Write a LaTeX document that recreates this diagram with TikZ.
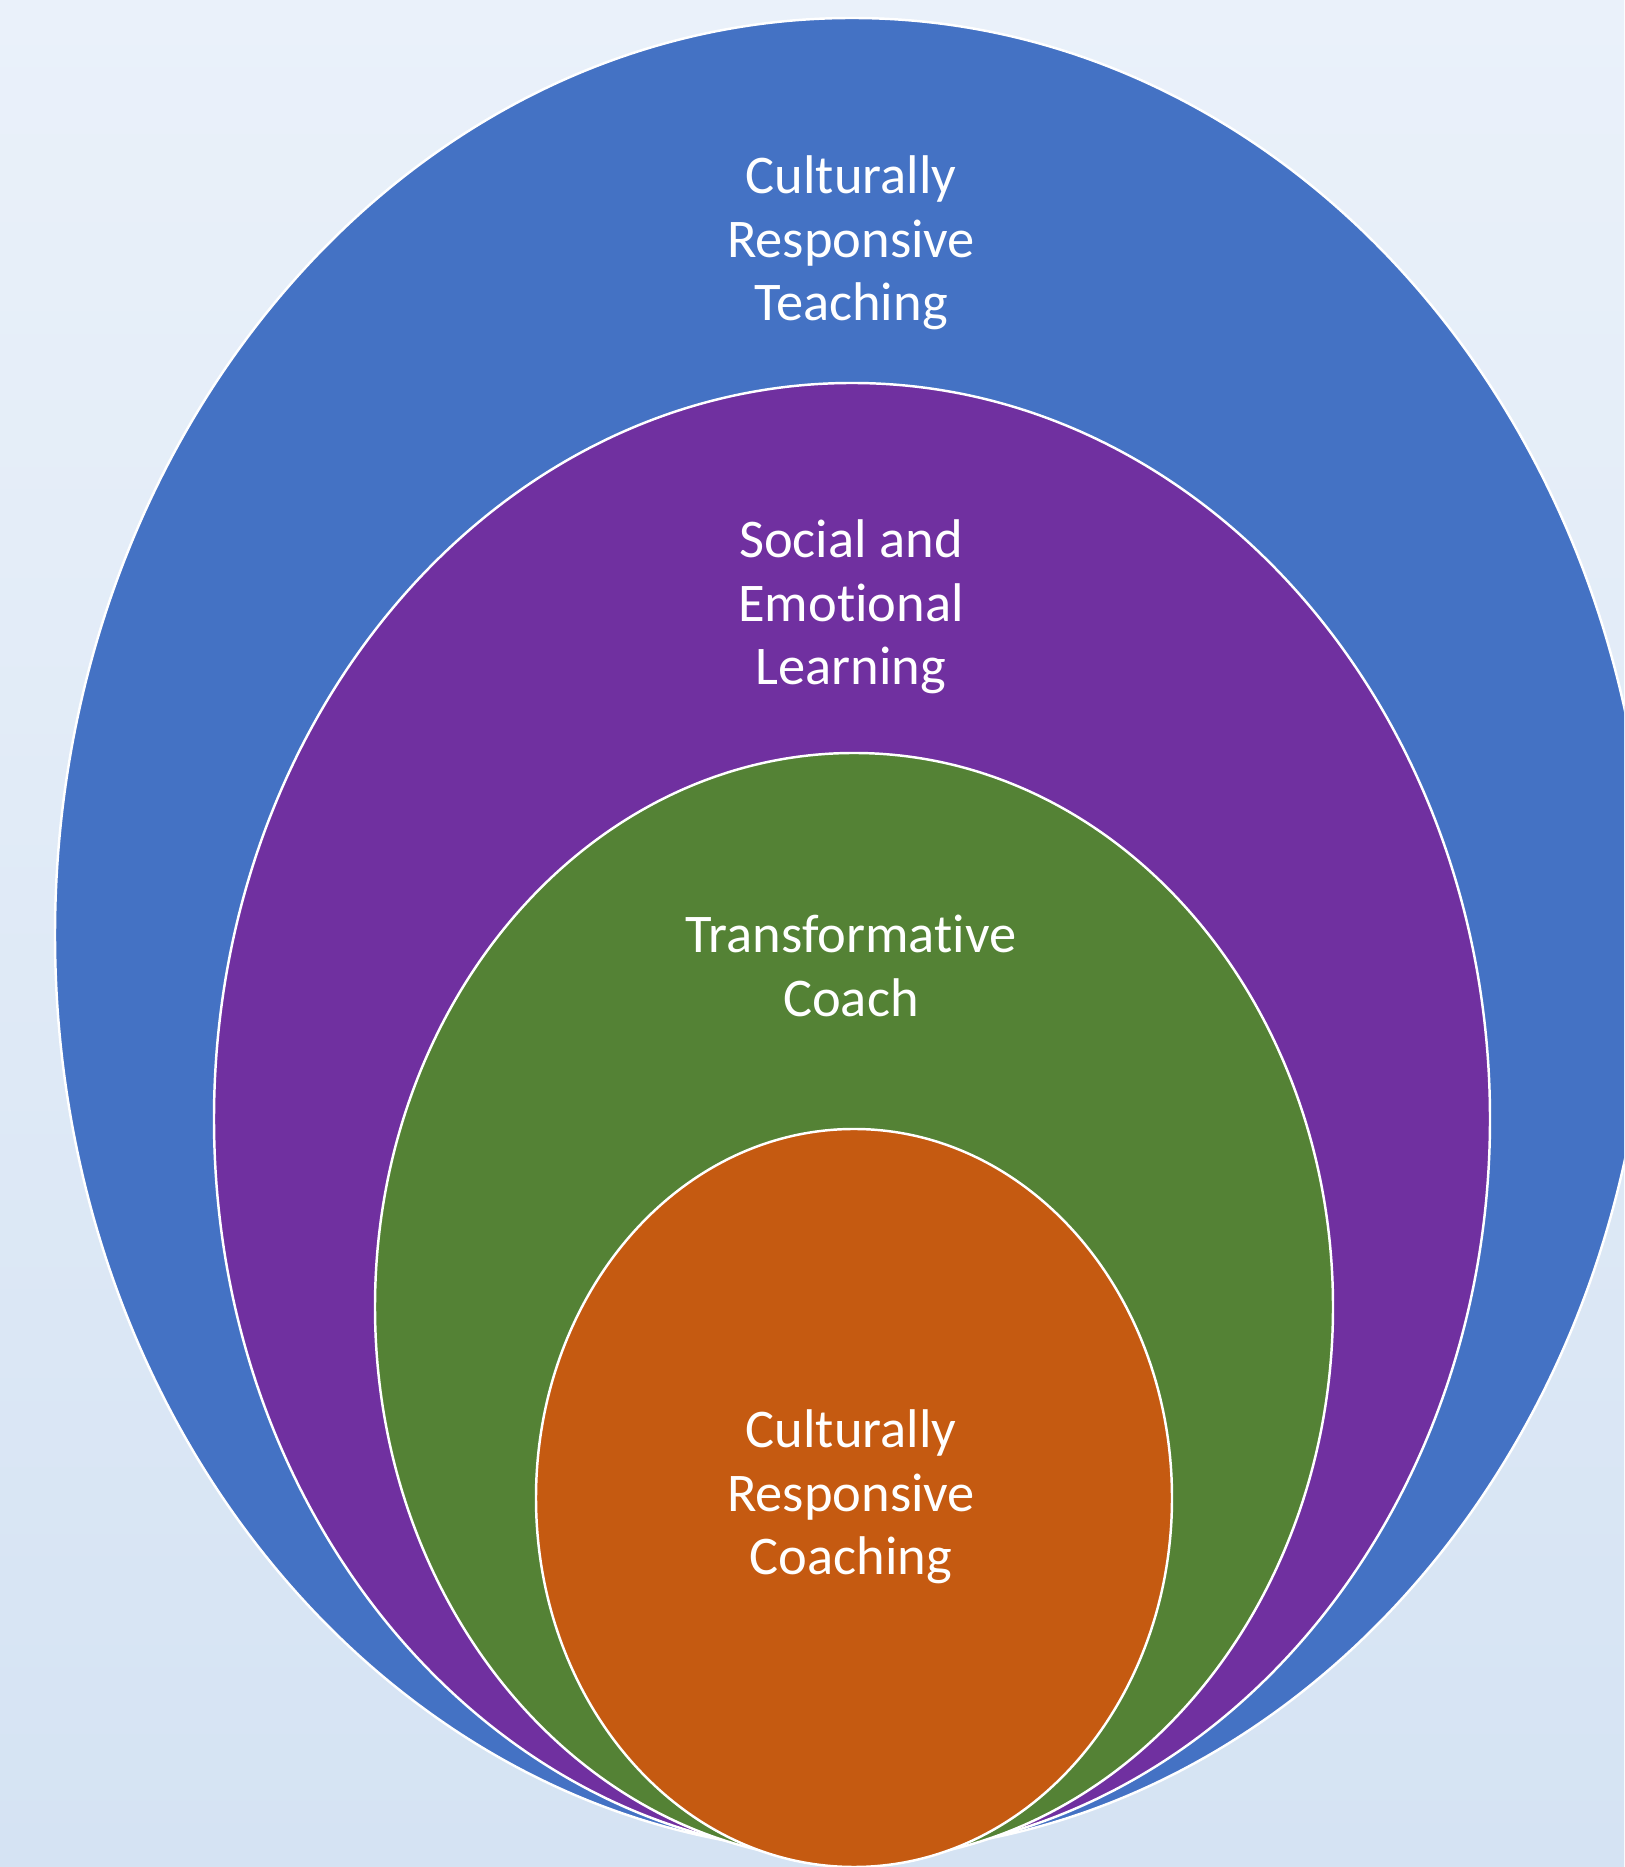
\documentclass[tikz,border=0pt]{standalone}
\usepackage{fontspec}
\setmainfont[Ligatures=NoCommon]{Carlito}
\usetikzlibrary{positioning, shapes.geometric}

\definecolor{ringblue}{HTML}{4472C4}
\definecolor{ringpurple}{HTML}{7030A0}
\definecolor{ringgreen}{HTML}{548235}
\definecolor{ringorange}{HTML}{C55A11}
\definecolor{bgtop}{HTML}{EAF1FA}
\definecolor{bgbot}{HTML}{D5E3F3}

\begin{document}
\begin{tikzpicture}[
  ring/.style  = {ellipse, draw=white, line width=0.7pt, inner sep=0pt},
  lbl/.style   = {align=center, text=white, font=\fontsize{15.5}{18}\selectfont},
]

% ---- page and background ----------------------------------------------------
\useasboundingbox (0,0) rectangle (16.24,18.67);
\clip (0,0) rectangle (16.24,18.67);
\shade[top color=bgtop, bottom color=bgbot] (0,0) rectangle (16.24,18.67);

% ---- nested rings, outermost first ------------------------------------------
\node[ring, fill=ringblue, minimum width=15.94cm, minimum height=18.34cm]
  (crt) at (8.52,9.32) {};
\node[ring, fill=ringpurple, minimum width=12.76cm, minimum height=14.72cm]
  (sel) at (8.52,7.48) {};
\node[ring, fill=ringgreen, minimum width=9.58cm, minimum height=11.08cm]
  (tc) at (8.54,5.60) {};
\node[ring, fill=ringorange, minimum width=6.36cm, minimum height=7.38cm]
  (crc) at (8.54,3.69) {};

% ---- labels -----------------------------------------------------------------
\node[lbl] (crtlbl) at (8.51,16.24) {Culturally\\Responsive\\Teaching};
\node[lbl] (sellbl) at (8.51,12.60) {Social and\\Emotional\\Learning};
\node[lbl] (tclbl)  at (8.51,9.01)  {Transformative\\Coach};
\node[lbl] (crclbl) at (8.51,3.70)  {Culturally\\Responsive\\Coaching};

\end{tikzpicture}
\end{document}
